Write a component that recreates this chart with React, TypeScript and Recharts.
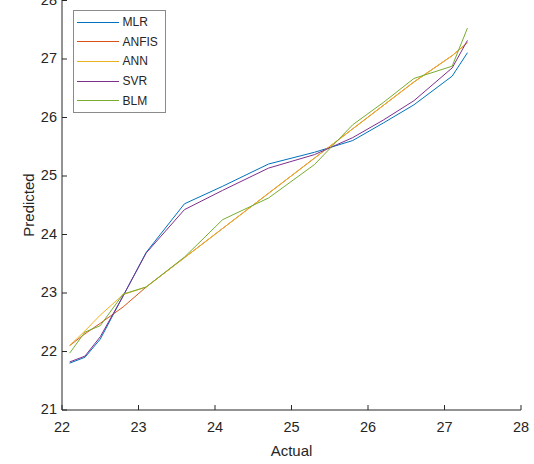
import React from 'react';
import { LineChart, Line, XAxis, YAxis } from 'recharts';

const actual = [22.1, 22.3, 22.5, 22.8, 23.1, 23.6, 24.1, 24.7, 25.3, 25.8, 26.2, 26.6, 27.1, 27.3];
const mlr = [21.8, 21.9, 22.21, 22.95, 23.69, 24.52, 24.82, 25.2, 25.4, 25.6, 25.9, 26.21, 26.7, 27.1];
const anfis = [22.1, 22.3, 22.48, 22.76, 23.1, 23.6, 24.1, 24.7, 25.3, 25.8, 26.2, 26.6, 27.05, 27.27];
const ann = [22.1, 22.35, 22.62, 22.97, 23.1, 23.6, 24.1, 24.7, 25.3, 25.8, 26.2, 26.6, 27.05, 27.27];
const svr = [21.82, 21.92, 22.25, 22.95, 23.68, 24.42, 24.75, 25.13, 25.36, 25.65, 25.95, 26.28, 26.84, 27.31];
const blm = [21.97, 22.33, 22.44, 22.98, 23.1, 23.61, 24.25, 24.62, 25.19, 25.87, 26.25, 26.66, 26.87, 27.52];

const xTicks = [22, 23, 24, 25, 26, 27, 28];
const yTicks = [21, 22, 23, 24, 25, 26, 27, 28];
const X_MIN = 22;
const X_MAX = 28;
const Y_MIN = 21;
const Y_MAX = 28;

const seriesNames = ['MLR', 'ANFIS', 'ANN', 'SVR', 'BLM'];
const seriesKeys = ['mlr', 'anfis', 'ann', 'svr', 'blm'];
const colors = ['#0072BD', '#D95319', '#EDB120', '#7E2F8E', '#77AC30'];

const data = actual.map((a, i) => ({
  actual: a,
  mlr: mlr[i],
  anfis: anfis[i],
  ann: ann[i],
  svr: svr[i],
  blm: blm[i],
}));

const W = 534;
const H = 464;
const M = { top: 0, right: 13, bottom: 0, left: 0 };
const XH = 54;
const YW = 62;
const PL = M.left + YW;
const PR = W - M.right;
const PT = M.top + 0.5;
const PB = H - M.bottom - XH;
const TICK = 5;
const AX = '#262626';
const FONT = '"Liberation Sans", Arial, sans-serif';
const TFS = 14.5;

// tick label positions for the y axis (recharts nudges the edge tick inward)
const yOf = (v: number) => PT + ((Y_MAX - v) / (Y_MAX - Y_MIN)) * (PB - PT);

const BottomTick = (p: any) => (
  <g>
    <line x1={p.x} x2={p.x} y1={PB} y2={PB - TICK} stroke={AX} />
    <text x={p.x} y={PB + 17} textAnchor="middle" dominantBaseline="central" fill={AX} fontSize={TFS} fontFamily={FONT}>
      {p.payload.value}
    </text>
  </g>
);
const TopTick = (p: any) => (
  <line x1={p.x} x2={p.x} y1={PT} y2={PT + TICK} stroke={AX} />
);
const LeftTick = (p: any) => {
  const y = yOf(p.payload.value);
  return (
    <g>
      <line x1={PL} x2={PL + TICK} y1={y} y2={y} stroke={AX} />
      <text x={PL - 5} y={y - 1} textAnchor="end" dominantBaseline="central" fill={AX} fontSize={TFS} fontFamily={FONT}>
        {p.payload.value}
      </text>
    </g>
  );
};
const RightTick = (p: any) => {
  const y = yOf(p.payload.value);
  return <line x1={PR} x2={PR - TICK} y1={y} y2={y} stroke={AX} />;
};

const LegendBox = () => (
  <div
    style={{
      position: 'absolute',
      left: 73,
      top: 10,
      width: 91,
      border: '1px solid #8a8a8a',
      background: '#fff',
      fontFamily: FONT,
      fontSize: 12,
      color: AX,
      paddingTop: 1.5,
      paddingBottom: 1.5,
    }}
  >
    {seriesNames.map((n, i) => (
      <div key={n} style={{ display: 'flex', alignItems: 'center', height: 19.6 }}>
        <div style={{ width: 42, height: 1, background: colors[i], marginLeft: 3, marginRight: 3.5 }} />
        <span>{n}</span>
      </div>
    ))}
  </div>
);

export default function App() {
  return (
    <div style={{ position: 'absolute', left: 0, top: 0, width: W, height: H, background: '#fff' }}>
      <LineChart width={W} height={H} data={data} margin={M}>
        <XAxis
          xAxisId="b"
          dataKey="actual"
          type="number"
          domain={[X_MIN, X_MAX]}
          ticks={xTicks}
          height={XH}
          stroke={AX}
          tickLine={false}
          tick={BottomTick}
          label={{ value: 'Actual', position: 'insideBottom', offset: 8, fill: AX, fontSize: 15, fontFamily: FONT }}
        />
        <XAxis
          xAxisId="t"
          orientation="top"
          dataKey="actual"
          type="number"
          domain={[X_MIN, X_MAX]}
          ticks={xTicks}
          height={0}
          stroke={AX}
          tickLine={false}
          tick={TopTick}
        />
        <YAxis
          yAxisId="l"
          type="number"
          domain={[Y_MIN, Y_MAX]}
          ticks={yTicks}
          width={YW}
          stroke={AX}
          tickLine={false}
          tick={LeftTick}
          label={{
            content: () => (
              <text x={28} y={205} transform="rotate(-90 28 205)" textAnchor="middle" dominantBaseline="central" fill={AX} fontSize={15} fontFamily={FONT}>
                Predicted
              </text>
            ),
          }}
        />
        <YAxis
          yAxisId="r"
          orientation="right"
          type="number"
          domain={[Y_MIN, Y_MAX]}
          ticks={yTicks}
          width={0}
          stroke={AX}
          tickLine={false}
          tick={RightTick}
        />
        {seriesKeys.map((k, i) => (
          <Line
            key={k}
            xAxisId="b"
            yAxisId="l"
            type="linear"
            dataKey={k}
            name={seriesNames[i]}
            stroke={colors[i]}
            strokeWidth={1}
            dot={false}
            isAnimationActive={false}
          />
        ))}
      </LineChart>
      <LegendBox />
    </div>
  );
}
